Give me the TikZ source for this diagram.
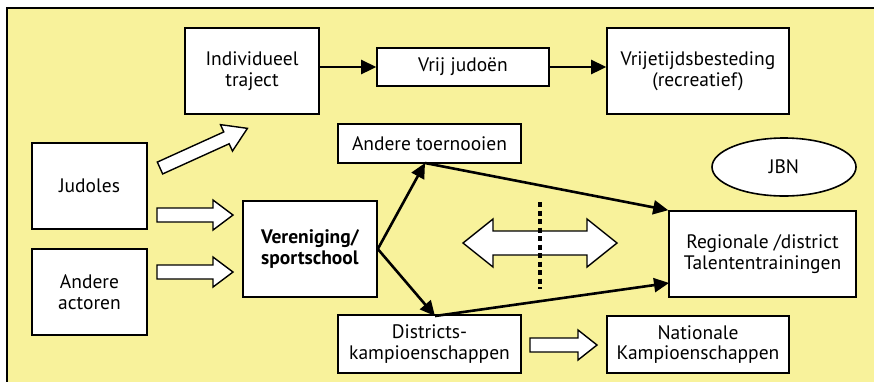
\documentclass[tikz,border=0pt]{standalone}
\usepackage{fontspec}
\setmainfont{PT Sans}
\usetikzlibrary{arrows.meta,shapes.geometric,calc}
\definecolor{panel}{HTML}{F8F29B}
\begin{document}
\begin{tikzpicture}[x=1pt,y=-1pt,
  box/.style={draw,line width=1.6pt,fill=white,inner sep=0pt,align=center,font=\fontsize{19.5}{20.5}\selectfont},
  flow/.style={line width=2.6pt,-{Triangle[length=15pt,width=14pt]}},
  blockarrow/.style={draw,line width=1.4pt,fill=white,line join=miter}]
\useasboundingbox (0,0) rectangle (874,381);
% background panel
\fill[panel] (7,8) rectangle (880,390);
\draw[line width=1.6pt] (7,390) -- (7,8) -- (880,8);

% boxes
\node[box,minimum width=134pt,minimum height=86pt] (indiv) at (252,71) {Individueel\\traject};
\node[box,minimum width=172pt,minimum height=38pt] (vrij) at (463,67) {Vrij judoën};
\node[box,minimum width=182pt,minimum height=86pt] (recr) at (698,71) {Vrijetijdsbesteding\\(recreatief)};
\node[box,minimum width=183pt,minimum height=39pt] (toern) at (429.5,143.5) {Andere toernooien};
\node[box,ellipse,minimum width=144pt,minimum height=58pt] (jbn) at (784,167) {JBN};
\node[box,minimum width=115pt,minimum height=86pt] (judoles) at (89.5,186) {Judoles};
\node[box,minimum width=115pt,minimum height=86pt] (actoren) at (89.5,292) {Andere\\actoren};
\node[box,minimum width=134pt,minimum height=96pt,align=left,font=\fontsize{19.5}{20.5}\selectfont\bfseries] (ver) at (310,249) {Vereniging/\\sportschool};
\node[box,minimum width=183pt,minimum height=58pt] (dist) at (429.5,344) {Districts-\\kampioenschappen};
\node[box,minimum width=187pt,minimum height=86pt] (reg) at (762.5,254) {Regionale /district\\Talententrainingen};
\node[box,minimum width=182pt,minimum height=57pt] (nat) at (698,344.5) {Nationale\\Kampioenschappen};

% thin flow arrows
\coordinate (tb) at (425,163);
\coordinate (dt) at (435,316);
\coordinate (rl) at (669,283);
\draw[flow] (indiv.east |- vrij.west) -- (vrij.west);
\draw[flow] (vrij.east) -- (recr.west |- vrij.east);
\draw[flow] (ver.east) -- (tb);
\draw[flow] (ver.east) -- (dt);
\draw[flow] (tb) -- (reg.north west);
\draw[flow] (dt) -- (rl);

% block arrows
\begin{scope}[shift={(160,168)},rotate=24.4]
  \draw[blockarrow] (0,-6.5) -- (73,-6.5) -- (73,-14.5) -- (96,0) -- (73,14.5) -- (73,6.5) -- (0,6.5) -- cycle;
\end{scope}
\begin{scope}[shift={(157,215)}]
  \draw[blockarrow] (0,-7) -- (56,-7) -- (56,-15) -- (76,0) -- (56,15) -- (56,7) -- (0,7) -- cycle;
\end{scope}
\begin{scope}[shift={(157,272)}]
  \draw[blockarrow] (0,-7) -- (56,-7) -- (56,-15) -- (76,0) -- (56,15) -- (56,7) -- (0,7) -- cycle;
\end{scope}
\begin{scope}[shift={(530,345)}]
  \draw[blockarrow] (0,-7) -- (48,-7) -- (48,-15) -- (67,0) -- (48,15) -- (48,7) -- (0,7) -- cycle;
\end{scope}
% two-headed block arrow
\begin{scope}[shift={(463,243)}]
  \draw[blockarrow] (0,0) -- (30,-24) -- (30,-12) -- (124,-12) -- (124,-24) -- (154,0)
    -- (124,24) -- (124,12) -- (30,12) -- (30,24) -- cycle;
\end{scope}
% dotted divider
\draw[line width=4pt,dash pattern=on 5pt off 3.5pt] (540,202) -- (540,289);
\end{tikzpicture}
\end{document}
